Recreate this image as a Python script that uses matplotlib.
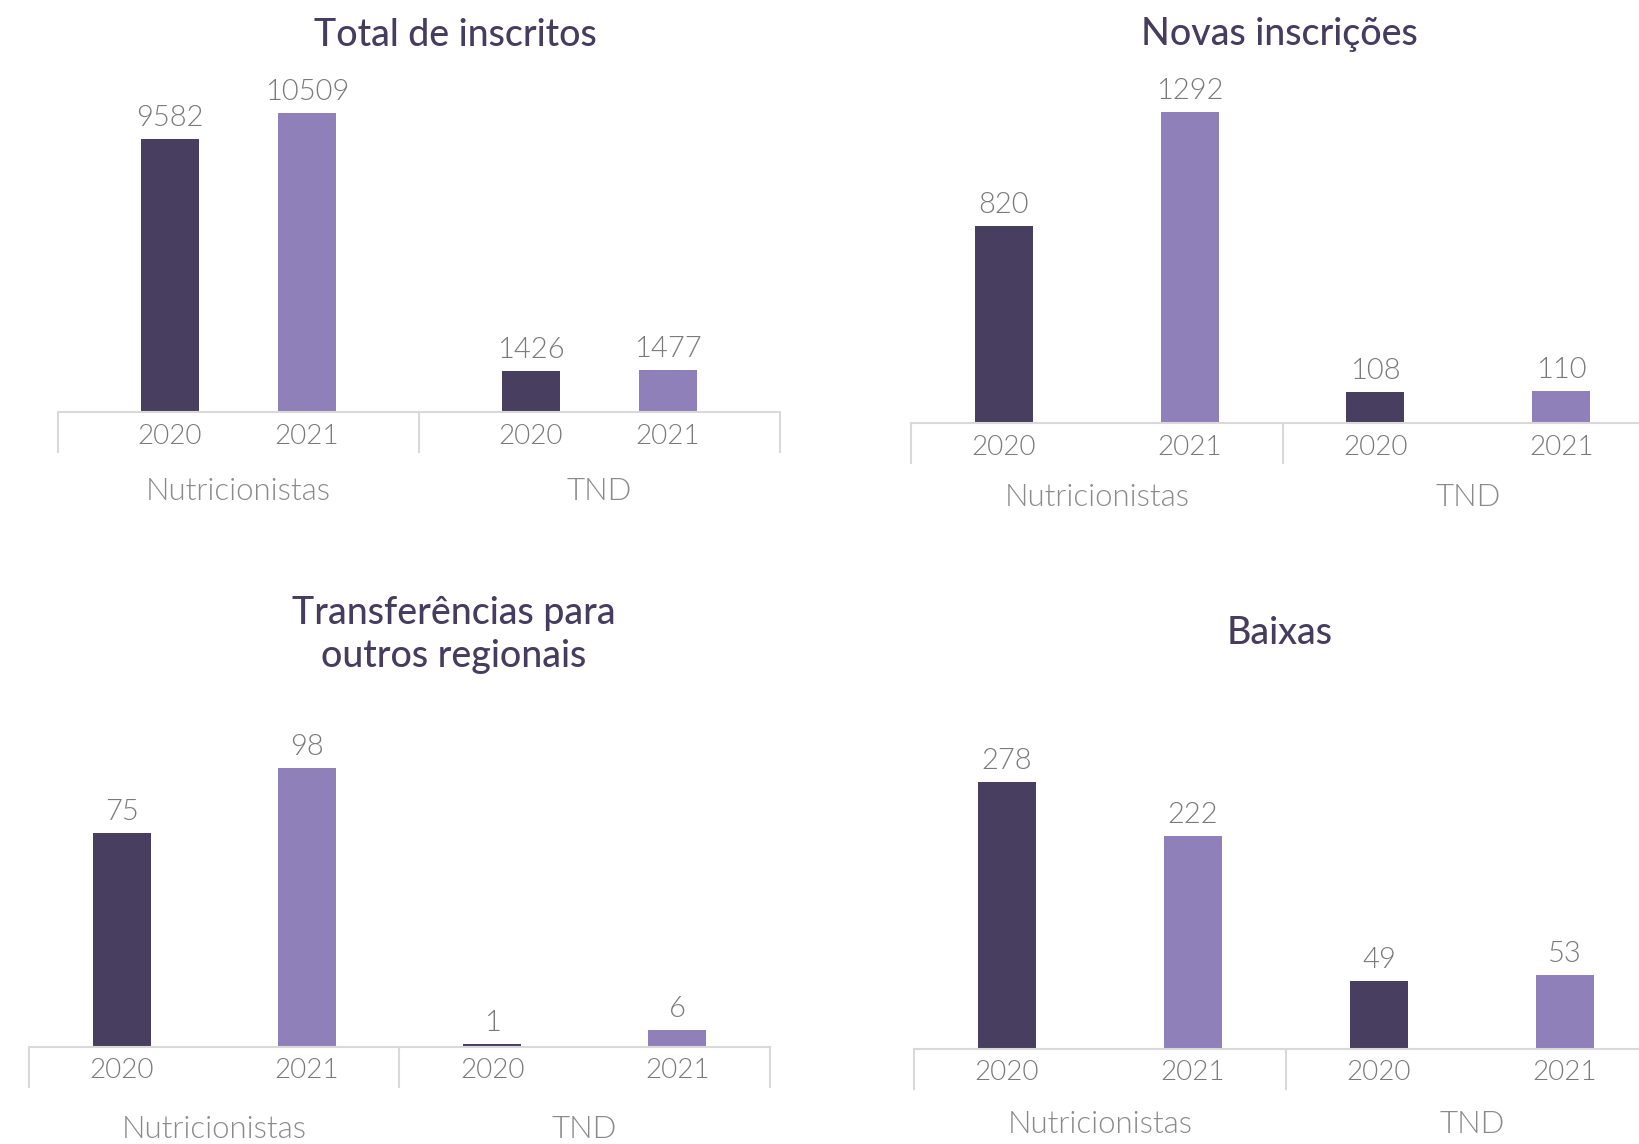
import matplotlib
matplotlib.use("Agg")
import matplotlib.pyplot as plt

plt.rcParams['font.family'] = ['Lato', 'DejaVu Sans']

groups = ["Nutricionistas", "TND"]
years = ["2020", "2021"]

# bar heights as drawn in the picture, and the labels printed above them
total_inscritos = [9582, 10509, 1426, 1477]
total_labels = ["9582", "10509", "1426", "1477"]
novas_inscricoes = [820, 1292, 127, 132]
novas_labels = ["820", "1292", "108", "110"]
transferencias = [75, 98, 1, 6]
transf_labels = ["75", "98", "1", "6"]
baixas = [278, 222, 71, 77]
baixas_labels = ["278", "222", "49", "53"]

titles = ["Total de inscritos", "Novas inscrições",
          "Transferências para\noutros regionais", "Baixas"]

DARK = "#483E5F"
LIGHT = "#9080B9"
TITLE_C = "#463D5E"
NUM_C = "#7A7A7A"
LINE_C = "#D9D9D9"

W, H = 1640, 1144
fig = plt.figure(figsize=(W / 100, H / 100), dpi=100)
PT = 72 / 100  # points per pixel


def panel(values, labels, title, left, right, base, top, title_xy, half_gap,
          year_dy, group_dy):
    # axes bottom sits on the category line, tallest bar reaches "top"
    pad = 40
    ax_h = base - top + pad
    ax = fig.add_axes([left / W, (H - base) / H, (right - left) / W, ax_h / H])
    ax.set_xlim(0, 4)
    ax.set_ylim(0, max(values) * ax_h / (base - top))
    ax.axis("off")

    xs = [1 - half_gap, 1 + half_gap, 3 - half_gap, 3 + half_gap]
    unit = (right - left) / 4
    ax.bar(xs, values, width=58 / unit, color=[DARK, LIGHT, DARK, LIGHT])

    ax.axhline(0, color=LINE_C, lw=1.5, clip_on=False)
    for xv in [0, 2, 4]:
        ax.plot([xv, xv], [0, -40 / ax_h], color=LINE_C, lw=1.5,
                transform=ax.get_xaxis_transform(), clip_on=False)

    for x, v, lab in zip(xs, values, labels):
        ax.annotate(lab, (x, v), xytext=(0, 21 * PT), textcoords="offset points",
                    ha="center", va="center", fontsize=21, color=NUM_C,
                    fontweight=300)
    for x, y in zip(xs, years * 2):
        ax.annotate(y, (x, 0), xytext=(0, -year_dy * PT), textcoords="offset points",
                    ha="center", va="center", fontsize=20, color=NUM_C,
                    fontweight=300)
    for x, g in zip([1, 3], groups):
        ax.annotate(g, (x, 0), xytext=(0, -group_dy * PT), textcoords="offset points",
                    ha="center", va="center", fontsize=22.5, color="#8A8A8A",
                    fontweight=300)

    fig.text(title_xy[0] / W, 1 - title_xy[1] / H, title, ha="center", va="center",
             fontsize=27, color=TITLE_C, fontweight=500, linespacing=1.3)


panel(total_inscritos, total_labels, titles[0], 58, 780, 411.5, 113, (455, 36), 0.38, 25, 80)
panel(novas_inscricoes, novas_labels, titles[1], 911, 1654, 422.7, 112, (1279, 35), 0.5, 24.5, 74.5)
panel(transferencias, transf_labels, titles[2], 29, 770, 1047, 768, (454, 635), 0.5, 24, 83)
panel(baixas, baixas_labels, titles[3], 914, 1658, 1048.7, 782, (1280, 634), 0.5, 24, 76)

fig.savefig("out.png", dpi=100, facecolor="white")
